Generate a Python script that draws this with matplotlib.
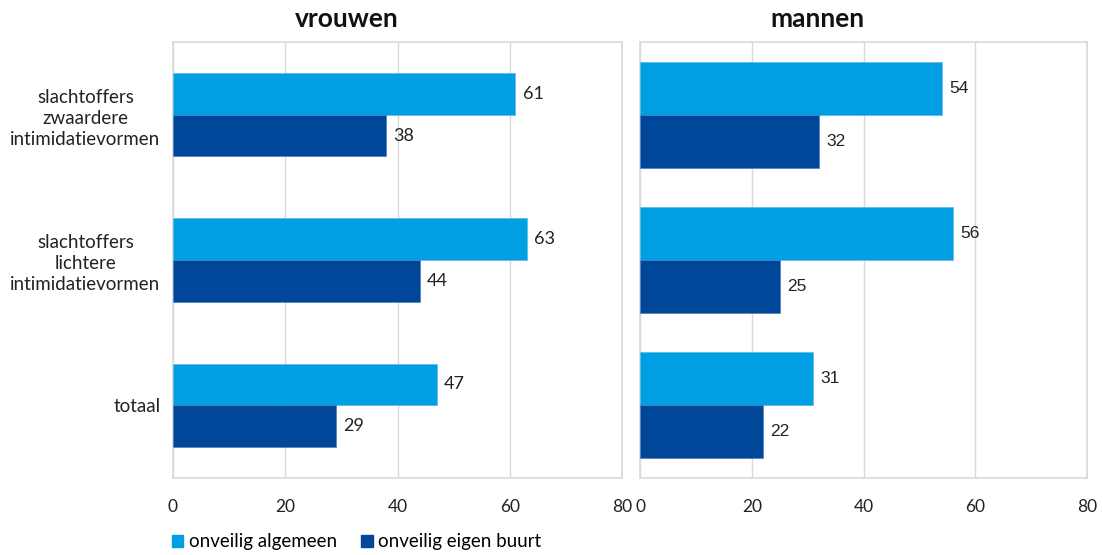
import matplotlib
matplotlib.use("Agg")
import matplotlib.pyplot as plt
import numpy as np
from matplotlib.patches import Patch

categories = ["slachtoffers\nzwaardere\nintimidatievormen",
              "slachtoffers\nlichtere\nintimidatievormen",
              "totaal"]
series = ["onveilig algemeen", "onveilig eigen buurt"]
vrouwen_algemeen = [61, 63, 47]
vrouwen_buurt = [38, 44, 29]
mannen_algemeen = [54, 56, 31]
mannen_buurt = [32, 25, 22]
xticks = [0, 20, 40, 60, 80]

c_light = "#009fe3"
c_dark = "#00479a"
grid_c = "#d9d9d9"
FONT = "Lato"

fig = plt.figure(figsize=(11.03, 5.55), dpi=100)
W, H = 1103, 555
def ax_rect(x0, x1, y0, y1):
    return [x0 / W, 1 - y1 / H, (x1 - x0) / W, (y1 - y0) / H]

ax1 = fig.add_axes(ax_rect(173, 622, 42, 478))
ax2 = fig.add_axes(ax_rect(640, 1087, 42, 478))

y = np.arange(len(categories))

def draw(ax, a, b, h, title, tx, labfont, labsize):
    ba = ax.barh(y - h / 2, a, height=h, color=c_light, edgecolor="#5db8ea", linewidth=0.5, zorder=3)
    bb = ax.barh(y + h / 2, b, height=h, color=c_dark, edgecolor="#4a7fc0", linewidth=0.5, zorder=3)
    for bars, vals in ((ba, a), (bb, b)):
        for r, v in zip(bars, vals):
            ax.text(v + 1.3, r.get_y() + r.get_height() / 2, str(v), va="center", ha="left",
                    fontsize=labsize, family=labfont, color="#222222")
    ax.set_xlim(0, 80)
    ax.set_ylim(len(categories) - 0.5, -0.5)
    ax.set_xticks(xticks)
    ax.set_xticklabels([str(t) for t in xticks], family=FONT, fontsize=12.5, color="#222222")
    ax.tick_params(axis="x", length=0, pad=15)
    ax.tick_params(axis="y", length=0)
    ax.grid(axis="x", color=grid_c, linewidth=1, zorder=0)
    for s in ax.spines.values():
        s.set_color(grid_c)
        s.set_linewidth(1.2)
    ax.text(tx, 1 + 23 / 436, title, transform=ax.transAxes, ha="center", va="center",
            fontsize=19, fontweight="bold", family=FONT, color="#111111")

draw(ax1, vrouwen_algemeen, vrouwen_buurt, 0.287, "vrouwen", 0.388, FONT, 13)
draw(ax2, mannen_algemeen, mannen_buurt, 0.365, "mannen", 0.398, "Liberation Sans", 12.5)

ax1.set_yticks(y)
ax1.set_yticklabels(categories, family=FONT, fontsize=13.5, color="#222222", ha="center", linespacing=1.3)
ax1.tick_params(axis="y", pad=63)
last = ax1.yaxis.get_major_ticks()[2]
last.set_pad(9)
last.label1.set_ha("right")
ax2.set_yticks([])

handles = [Patch(color=c_light), Patch(color=c_dark)]
fig.legend(handles, series, loc="center left", bbox_to_anchor=(172 / W, 1 - 542 / H),
           ncol=2, frameon=False, prop={"family": FONT, "size": 13.5},
           handlelength=0.6, handleheight=0.6, handletextpad=0.3, columnspacing=1.3,
           borderaxespad=0, borderpad=0)

fig.savefig("out.png", dpi=100)
